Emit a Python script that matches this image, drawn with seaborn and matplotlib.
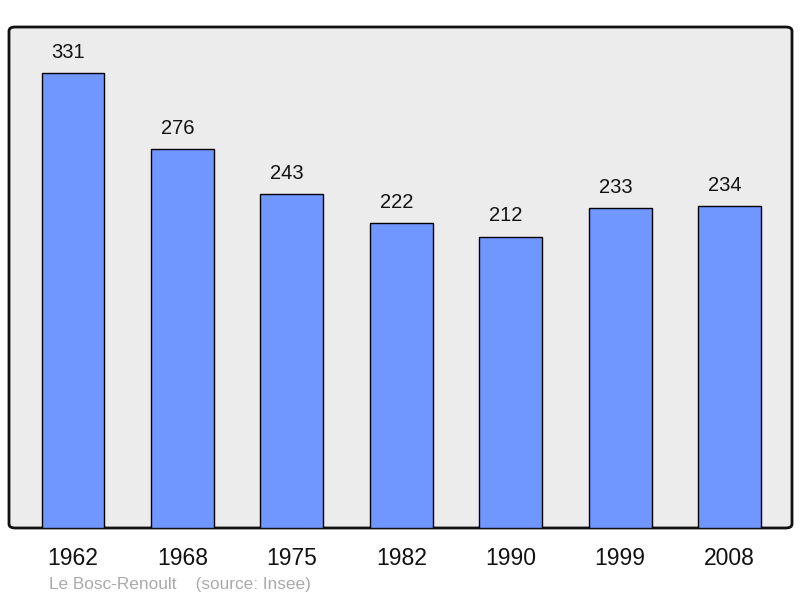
import matplotlib
matplotlib.use("Agg")
from matplotlib import pyplot as plt
from matplotlib.patches import FancyBboxPatch
import seaborn as sns
import pandas as pd

years = ['1962', '1968', '1975', '1982', '1990', '1999', '2008']
population = [331, 276, 243, 222, 212, 233, 234]

df = pd.DataFrame({'year': years, 'population': population})

sns.set_style('white')
plt.rcParams['font.family'] = ['Liberation Sans', 'DejaVu Sans']

fig = plt.figure(figsize=(8, 5.98), dpi=100)
ax = fig.add_axes([9 / 800, 1 - 528 / 598, 783 / 800, 501 / 598])
ax.set_facecolor('none')

# rounded frame with grey fill
frame = FancyBboxPatch((0, 0), 1, 1, boxstyle='round,pad=0,rounding_size=0.008',
                       transform=ax.transAxes, facecolor='#ececec',
                       edgecolor='#111111', linewidth=2, zorder=0, clip_on=False)
ax.add_patch(frame)

sns.barplot(data=df, x='year', y='population', color='#7096ff', saturation=1,
            width=0.575, edgecolor='black', linewidth=1, ax=ax, zorder=2)

# value labels sit slightly left of the bar centre
for i, v in enumerate(population):
    ax.annotate(str(v), (i, v), xytext=(-3.5, 8), textcoords='offset points',
                ha='center', va='bottom', fontsize=14.5, color='#111111')

ax.set_xlim(-0.585, 6.57)
ax.set_ylim(0, 364.5)
for s in ax.spines.values():
    s.set_visible(False)
ax.set_yticks([])
ax.tick_params(axis='x', length=0, pad=14, labelsize=16.5, labelcolor='#111111')
ax.set_xlabel('')
ax.set_ylabel('')

fig.text(49 / 800, 1 - 584 / 598, 'Le Bosc-Renoult    (source: Insee)',
         fontsize=12.4, color='#aaaaaa', ha='left', va='center')

fig.savefig('out.png', dpi=100)
